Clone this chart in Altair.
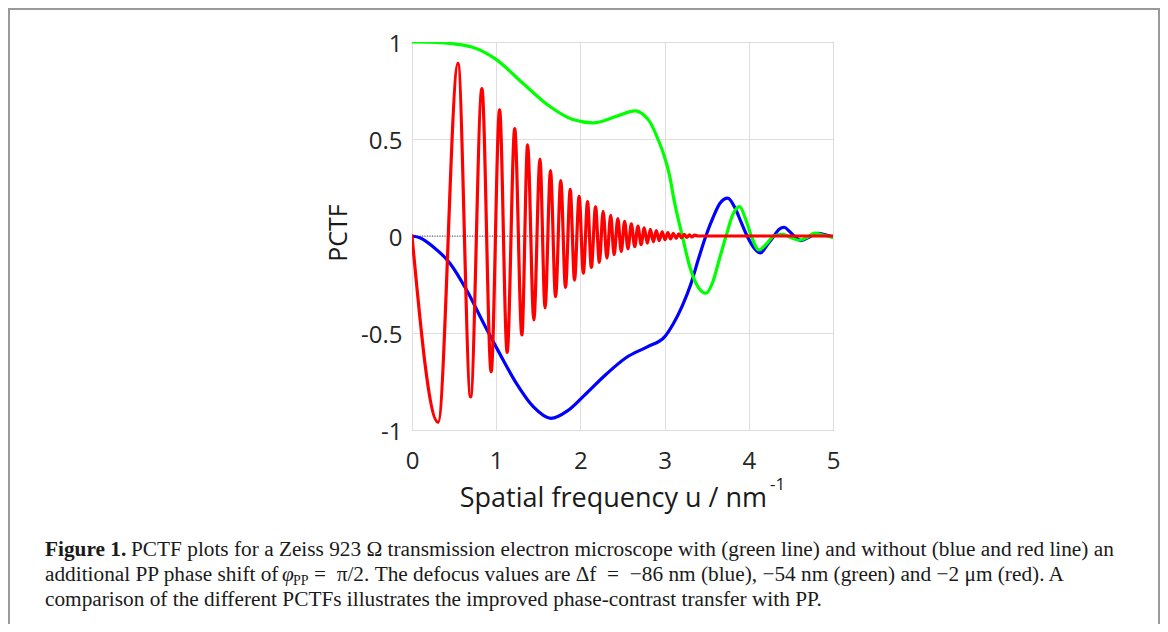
import altair as alt
import pandas as pd

# ---------------- data ----------------
blue_u = [0, 0.10, 0.25, 0.45, 0.65, 0.85, 1.04, 1.24, 1.44, 1.65, 1.85, 2.05, 2.30, 2.55, 2.80,
          3.00, 3.10, 3.21, 3.31, 3.41, 3.49, 3.58, 3.66, 3.75, 3.83, 3.91, 3.98, 4.06, 4.14,
          4.22, 4.30, 4.36, 4.42, 4.48, 4.54, 4.62, 4.72, 4.82, 4.92, 5.00]
blue_v = [0, -0.01, -0.055, -0.14, -0.28, -0.45, -0.605, -0.76, -0.88, -0.94, -0.90, -0.82, -0.715,
          -0.625, -0.57, -0.52, -0.455, -0.36, -0.25, -0.107, 0, 0.10, 0.17, 0.195, 0.15, 0.07, 0,
          -0.06, -0.087, -0.045, 0, 0.035, 0.045, 0.025, 0, -0.024, -0.005, 0.014, 0.005, -0.005]

green_u = [0, 0.30, 0.50, 0.71, 0.99, 1.31, 1.63, 1.91, 2.15, 2.43, 2.65, 2.75, 2.83, 2.92, 2.99,
           3.06, 3.11, 3.21, 3.30, 3.40, 3.49, 3.57, 3.65, 3.73, 3.81, 3.89, 3.96, 4.03, 4.12,
           4.20, 4.30, 4.40, 4.50, 4.60, 4.70, 4.78, 4.88, 5.00]
green_v = [1, 0.998, 0.99, 0.974, 0.913, 0.79, 0.67, 0.60, 0.583, 0.617, 0.645, 0.625, 0.585, 0.50,
           0.42, 0.31, 0.19, 0, -0.16, -0.265, -0.295, -0.24, -0.12, 0, 0.11, 0.151, 0.09, 0,
           -0.072, -0.045, 0, 0.008, -0.008, -0.022, -0.005, 0.015, 0.005, -0.008]

# red: extrema of the fast-oscillating curve
red_u = [0, 0.31, 0.546, 0.696, 0.83, 0.94, 1.04, 1.13, 1.22, 1.305, 1.373, 1.447, 1.52, 1.58,
         1.645, 1.705, 1.767, 1.823, 1.879, 1.93, 1.985, 2.035, 2.085, 2.13, 2.18, 2.225, 2.27,
         2.315, 2.36, 2.40, 2.445, 2.485, 2.525, 2.565, 2.605, 2.645, 2.683, 2.721, 2.758, 2.795,
         2.831, 2.866, 2.901, 2.936, 2.971, 3.005, 3.038, 3.071, 3.104, 3.137, 3.169, 3.201,
         3.232, 3.264, 3.295, 3.325, 3.356, 3.40, 5.00]
red_v = [0, -0.96, 0.89, -0.83, 0.76, -0.70, 0.65, -0.60, 0.553, -0.51, 0.47, -0.433, 0.397, -0.37,
         0.337, -0.313, 0.285, -0.265, 0.24, -0.227, 0.205, -0.192, 0.177, -0.162, 0.150, -0.136,
         0.127, -0.114, 0.107, -0.096, 0.090, -0.080, 0.075, -0.066, 0.062, -0.055, 0.051, -0.045,
         0.042, -0.037, 0.034, -0.030, 0.028, -0.024, 0.022, -0.019, 0.018, -0.015, 0.014, -0.012,
         0.011, -0.009, 0.008, -0.007, 0.006, -0.005, 0.004, 0, 0]

x_ticks = [0, 1, 2, 3, 4, 5]
y_ticks = [-1, -0.5, 0, 0.5, 1]
y_tick_labels = ["-1", "-0.5", "0", "0.5", "1"]

x_title = "Spatial frequency u / nm"
x_title_sup = "-1"
y_title = "PCTF"
cap_bold = "Figure 1."
cap_l1 = "PCTF plots for a Zeiss 923 \u03a9 transmission electron microscope with (green line) and without (blue and red line) an"
cap_l2a = "additional PP phase shift of"
cap_phi = "\u03c6"
cap_sub = "PP"
cap_l2b = "=\u2002\u03c0/2. The defocus values are \u0394f\u2002=\u2002\u221286 nm (blue), \u221254 nm (green) and \u22122 \u03bcm (red). A"
cap_l3 = "comparison of the different PCTFs illustrates the improved phase-contrast transfer with PP."

assert len(blue_u) == len(blue_v) and len(green_u) == len(green_v) and len(red_u) == len(red_v)

# ---------------- layout ----------------
W, H = 421, 388
OX, OY = 412, 42          # page position of the plot origin
PAD_L, PAD_T = OX - 8, OY - 8
SANS = "Open Sans"
SERIF = "Liberation Serif"
CAP = 21.3

y_label_expr = " : ".join(
    f"datum.value == {v} ? '{l}'" for v, l in zip(y_ticks, y_tick_labels)
) + " : ''"

xs = alt.Scale(domain=[0, 5], nice=False, zero=False)
ys = alt.Scale(domain=[-1, 1], nice=False, zero=False)
xax = alt.Axis(values=x_ticks, title=None, grid=True, ticks=False, domain=False,
               labelFont=SANS, labelFontSize=24, labelColor="#262626", labelPadding=19,
               gridColor="#dedede", gridWidth=1, labelFlush=False)
yax = alt.Axis(values=y_ticks, title=None, grid=True, ticks=False, domain=False,
               labelFont=SANS, labelFontSize=24, labelColor="#262626", labelPadding=10,
               gridColor="#dedede", gridWidth=1, labelExpr=y_label_expr, labelBaseline="middle",
               labelOffset=2, labelFlush=False)


def series(u, v, color):
    df = pd.DataFrame({"u": u, "v": v})
    return alt.Chart(df).mark_line(color=color, strokeWidth=3.2, interpolate="monotone",
                                   clip=True, strokeCap="round", strokeJoin="round").encode(
        x=alt.X("u:Q", scale=xs, axis=xax),
        y=alt.Y("v:Q", scale=ys, axis=yax),
    )


one = pd.DataFrame({"k": [0]})


def txt(text, px, py, size, font=SANS, weight="normal", align="left", baseline="alphabetic",
        angle=0, style="normal", color="#1a1a1a"):
    """px, py are page pixel positions."""
    kw = dict(text=text, font=font, fontSize=size, fontWeight=weight, align=align,
              baseline=baseline, color=color, fontStyle=style)
    if angle:
        kw["angle"] = angle
    return alt.Chart(one).mark_text(**kw).encode(x=alt.value(px - OX), y=alt.value(py - OY))


zero_df = pd.DataFrame({"v": [0]})
zero_line = alt.Chart(zero_df).mark_rule(color="#444444", strokeWidth=1, strokeDash=[1, 1.5]).encode(
    y=alt.Y("v:Q", scale=ys, axis=yax))

frame = alt.Chart(one).mark_rect(fillOpacity=0, stroke="#9a9a9a", strokeWidth=2).encode(
    x=alt.value(9 - OX), x2=alt.value(1159 - OX), y=alt.value(9 - OY), y2=alt.value(660 - OY))

b1, b2, b3 = 556, 581, 606
cx = 45

layers = [
    frame,
    zero_line,
    series(blue_u, blue_v, "#0000ff"),
    series(green_u, green_v, "#00ff00"),
    series(red_u, red_v, "#ff0000"),
    txt(x_title, 767, 507, 27, align="right"),
    txt(x_title_sup, 770, 490, 17),
    txt(y_title, 339, 233, 25, align="center", baseline="middle", angle=270),
    txt(cap_bold, cx, b1, CAP, font=SERIF, weight="bold"),
    txt(cap_l1, 131, b1, CAP, font=SERIF),
    txt(cap_l2a, cx, b2, CAP, font=SERIF),
    txt(cap_phi, 282, b2, CAP, font=SERIF, style="italic"),
    txt(cap_sub, 293, b2 + 4, 14, font=SERIF),
    txt(cap_l2b, 314, b2, CAP, font=SERIF),
    txt(cap_l3, cx, b3, CAP, font=SERIF),
]

chart = alt.layer(*layers).properties(
    width=W, height=H,
    autosize=alt.AutoSizeParams(type="none"),
    padding={"left": PAD_L, "top": PAD_T, "right": 1152 - PAD_L - W, "bottom": 616 - PAD_T - H},
    background="white",
).configure_view(stroke="#8a8a8a", strokeWidth=1)

chart.save("out.html", embed_options={"renderer": "svg", "actions": False})
